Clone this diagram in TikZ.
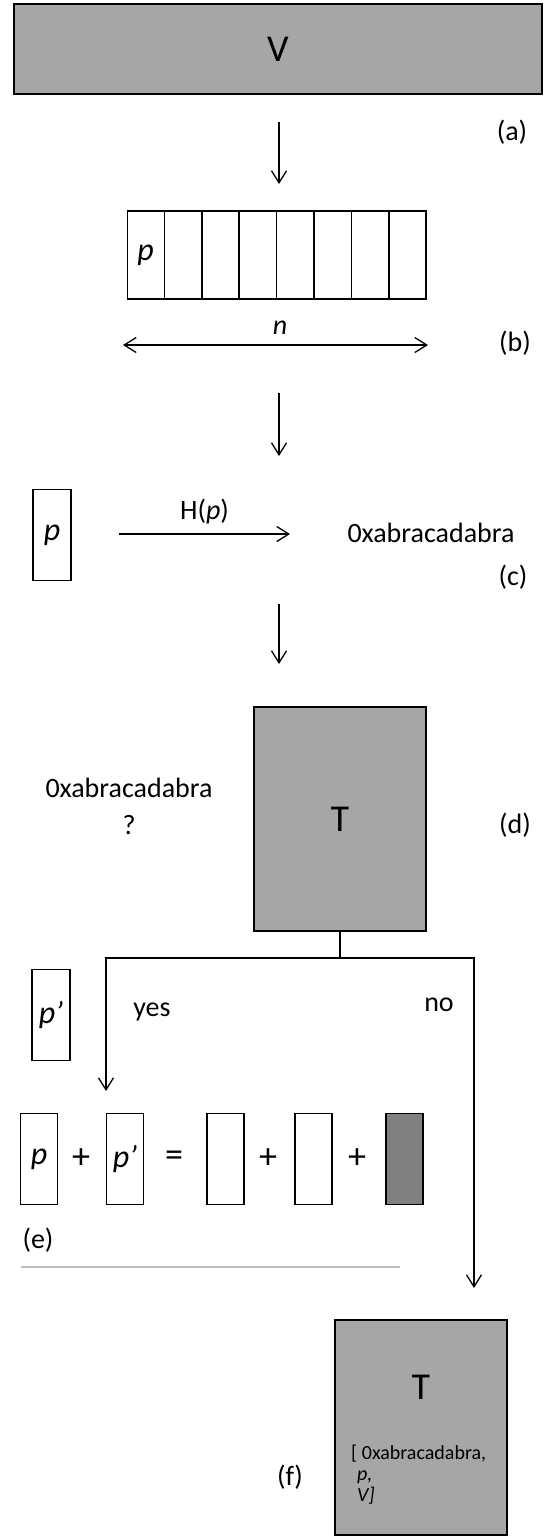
\documentclass[tikz,border=0pt]{standalone}
\usepackage{fontspec}
\setmainfont{Carlito}
\usetikzlibrary{arrows.meta}
\definecolor{boxgray}{HTML}{A6A6A6}
\definecolor{darkgray}{HTML}{808080}
\definecolor{rulegray}{HTML}{BFBFBF}
\tikzset{
  graybox/.style={draw=black, line width=1.5pt, fill=boxgray, inner sep=0pt},
  cellbox/.style={draw, line width=1.3pt, fill=white, inner sep=0pt, minimum width=37pt, minimum height=88pt, font=\fontsize{32}{34}\selectfont\itshape},
  tag/.style={inner sep=0pt, font=\fontsize{28}{30}\selectfont},
  opsign/.style={inner sep=0pt, font=\fontsize{36}{38}\selectfont},
  big/.style={inner sep=0pt, font=\fontsize{38}{40}\selectfont},
  flow/.style={line width=1.3pt, -{Straight Barb[length=12pt,width=15pt,line width=1.3pt]}},
  span/.style={line width=1.3pt, {Straight Barb[length=12pt,width=15pt,line width=1.3pt]}-{Straight Barb[length=12pt,width=15pt,line width=1.3pt]}}
}
\begin{document}
\begin{tikzpicture}[x=1pt, y=-1pt]
  \useasboundingbox (0,0) rectangle (547,1537);

  % (a) the whole file
  \node (vbox) at (278,49) [graybox, minimum width=528pt, minimum height=90pt, font=\fontsize{38}{40}\selectfont] {V};
  \node (la) at (512,132) [tag] {(a)};
  \coordinate (a1) at (279,122);
  \coordinate (a2) at (279,184);
  \draw[flow] (a1) -- (a2);

  % (b) the pieces
  \node (cell0) at (145.7,255) [cellbox] {p};
  \foreach \i in {1,...,7}
    \node (cell\i) at ({145.7+37.4*\i},255) [cellbox] {};
  \coordinate (nl) at (123,345);
  \coordinate (nr) at (428,345);
  \draw[span] (nl) -- (nr);
  \node (nlab) at (280,328) [tag, font=\fontsize{28}{30}\selectfont\itshape] {n};
  \node (lb) at (515,343) [tag] {(b)};
  \coordinate (b1) at (279,393);
  \coordinate (b2) at (279,456);
  \draw[flow] (b1) -- (b2);

  % (c) hash of one piece
  \node (pc) at (52,535) [cellbox, minimum width=38pt, minimum height=91pt] {p};
  \coordinate (h1) at (119,534);
  \coordinate (h2) at (290,534);
  \draw[flow] (h1) -- (h2) node[midway, above=9pt, tag] {H(\textit{p})};
  \node (hash) at (431,533) [tag] {0xabracadabra};
  \node (lc) at (513,577) [tag] {(c)};
  \coordinate (c1) at (279,604);
  \coordinate (c2) at (279,664);
  \draw[flow] (c1) -- (c2);

  % (d) lookup in the table
  \node (tbox) at (340,819) [graybox, minimum width=172pt, minimum height=224pt, font=\fontsize{38}{40}\selectfont] {T};
  \node (query) at (129,806) [tag, align=center, font=\fontsize{28}{37}\selectfont] {0xabracadabra\\?};
  \node (ld) at (515,825) [tag] {(d)};

  \coordinate (split) at (340,958);
  \coordinate (yesend) at (106,1091);
  \coordinate (noend) at (474,1288);
  \draw[line width=1.8pt] (tbox.south) -- (split);
  \draw[line width=1.8pt] (106,958) -- (474,958);
  \draw[flow] (split) -| (yesend);
  \draw[flow] (split) -| (noend);
  \node (yes) at (152,1012) [tag] {yes};
  \node (no) at (439,1005) [tag] {no};

  % (e) found: combine
  \node (pprime) at (51,1015) [cellbox, minimum width=38pt, minimum height=91pt] {p’};
  \node (e1) at (39,1159) [cellbox, minimum height=91pt] {p};
  \node (op1) at (81,1159) [opsign] {+};
  \node (e2) at (125,1159) [cellbox, minimum height=91pt] {p’};
  \node (op2) at (174,1159) [opsign] {=};
  \node (e3) at (225.5,1159) [cellbox, minimum height=91pt] {};
  \node (op3) at (268,1159) [opsign] {+};
  \node (e4) at (313.5,1159) [cellbox, minimum height=91pt] {};
  \node (op4) at (357,1159) [opsign] {+};
  \node (e5) at (404.5,1159) [cellbox, minimum height=91pt, fill=darkgray] {};
  \node (le) at (38,1240) [tag] {(e)};
  \coordinate (r1) at (21,1267);
  \coordinate (r2) at (400,1267);
  \draw[rulegray, line width=2pt] (r1) -- (r2);

  % (f) not found: store
  \node (fbox) at (421,1427.5) [graybox, minimum width=172pt, minimum height=215pt] {};
  \node (ft) at (421,1387) [big] {T};
  \node (entry) at (351,1445) [anchor=north west, inner sep=0pt, align=left, font=\fontsize{20}{21}\selectfont] {[ 0xabracadabra,\\\hspace*{6pt}\textit{p,}\\\hspace*{6pt}\textit{V]}};
  \node (lf) at (290,1477) [tag] {(f)};
\end{tikzpicture}
\end{document}
